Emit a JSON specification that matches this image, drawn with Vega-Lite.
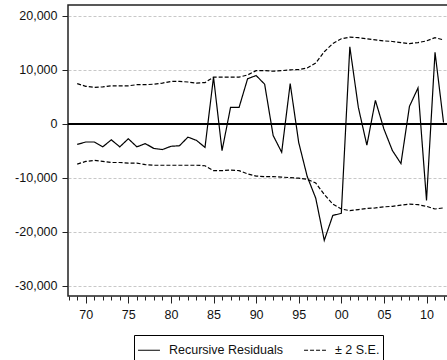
{
  "$schema": "https://vega.github.io/schema/vega-lite/v6.json",
  "width": 381,
  "height": 291,
  "autosize": {"type": "none"},
  "padding": {"left": 68, "top": 5, "right": -2, "bottom": 64},
  "background": "white",
  "config": {
    "view": {"stroke": "#222222", "strokeWidth": 1.5},
    "axis": {"labelFont": "Liberation Sans", "labelFontSize": 12.5, "labelColor": "#111111", "domain": false, "tickColor": "#222222", "title": null}
  },
  "data": {"values": [
    {"year": 1969, "resid": -3850, "upper": 7400, "lower": -7500},
    {"year": 1970, "resid": -3400, "upper": 6900, "lower": -7000},
    {"year": 1971, "resid": -3400, "upper": 6700, "lower": -6800},
    {"year": 1972, "resid": -4300, "upper": 6800, "lower": -7000},
    {"year": 1973, "resid": -3000, "upper": 7000, "lower": -7200},
    {"year": 1974, "resid": -4300, "upper": 7000, "lower": -7200},
    {"year": 1975, "resid": -2800, "upper": 7000, "lower": -7300},
    {"year": 1976, "resid": -4300, "upper": 7200, "lower": -7300},
    {"year": 1977, "resid": -3700, "upper": 7200, "lower": -7600},
    {"year": 1978, "resid": -4600, "upper": 7300, "lower": -7700},
    {"year": 1979, "resid": -4800, "upper": 7500, "lower": -7700},
    {"year": 1980, "resid": -4200, "upper": 7800, "lower": -7700},
    {"year": 1981, "resid": -4100, "upper": 7800, "lower": -7700},
    {"year": 1982, "resid": -2500, "upper": 7700, "lower": -7700},
    {"year": 1983, "resid": -3100, "upper": 7500, "lower": -7700},
    {"year": 1984, "resid": -4400, "upper": 7600, "lower": -7800},
    {"year": 1985, "resid": 8600, "upper": 8600, "lower": -8700},
    {"year": 1986, "resid": -5000, "upper": 8600, "lower": -8700},
    {"year": 1987, "resid": 3000, "upper": 8600, "lower": -8600},
    {"year": 1988, "resid": 3000, "upper": 8600, "lower": -8700},
    {"year": 1989, "resid": 8300, "upper": 9000, "lower": -9300},
    {"year": 1990, "resid": 8900, "upper": 9800, "lower": -9700},
    {"year": 1991, "resid": 7300, "upper": 9800, "lower": -9800},
    {"year": 1992, "resid": -2200, "upper": 9700, "lower": -9800},
    {"year": 1993, "resid": -5300, "upper": 9800, "lower": -9900},
    {"year": 1994, "resid": 7400, "upper": 9950, "lower": -10000},
    {"year": 1995, "resid": -3500, "upper": 10000, "lower": -10100},
    {"year": 1996, "resid": -9800, "upper": 10300, "lower": -10300},
    {"year": 1997, "resid": -13800, "upper": 11200, "lower": -11000},
    {"year": 1998, "resid": -21600, "upper": 13300, "lower": -13100},
    {"year": 1999, "resid": -17000, "upper": 14800, "lower": -14900},
    {"year": 2000, "resid": -16600, "upper": 15700, "lower": -15800},
    {"year": 2001, "resid": 14200, "upper": 16000, "lower": -16100},
    {"year": 2002, "resid": 3000, "upper": 15900, "lower": -15900},
    {"year": 2003, "resid": -4000, "upper": 15700, "lower": -15700},
    {"year": 2004, "resid": 4300, "upper": 15500, "lower": -15600},
    {"year": 2005, "resid": -1000, "upper": 15300, "lower": -15400},
    {"year": 2006, "resid": -5000, "upper": 15200, "lower": -15300},
    {"year": 2007, "resid": -7400, "upper": 15000, "lower": -15100},
    {"year": 2008, "resid": 3200, "upper": 14800, "lower": -14900},
    {"year": 2009, "resid": 6600, "upper": 15000, "lower": -15000},
    {"year": 2010, "resid": -14200, "upper": 15300, "lower": -15300},
    {"year": 2011, "resid": 13200, "upper": 15900, "lower": -15800},
    {"year": 2012, "resid": 200, "upper": 15500, "lower": -15600}
  ]},
  "layer": [
    {
      "mark": {"type": "rule", "color": "black", "strokeWidth": 1},
      "encoding": {
        "y": {"datum": 0, "type": "quantitative", "scale": {"domain": [-31900, 21950], "nice": false, "zero": false}}
      }
    },
    {
      "transform": [{"fold": ["resid", "upper", "lower"], "as": ["key", "value"]}],
      "mark": {"type": "line", "color": "black", "strokeWidth": 1.2},
      "encoding": {
        "x": {
          "field": "year", "type": "quantitative",
          "scale": {"domain": [1967.92, 2012.64], "nice": false, "zero": false},
          "axis": {
            "values": [1968,1969,1970,1971,1972,1973,1974,1975,1976,1977,1978,1979,1980,1981,1982,1983,1984,1985,1986,1987,1988,1989,1990,1991,1992,1993,1994,1995,1996,1997,1998,1999,2000,2001,2002,2003,2004,2005,2006,2007,2008,2009,2010,2011,2012],
            "tickSize": {"condition": {"test": "datum.value % 5 === 0", "value": 7}, "value": 4},
            "labelExpr": "datum.value % 5 === 0 ? slice(toString(datum.value), 2) : ''",
            "labelPadding": 5,
            "labelOverlap": false,
            "labelFlush": false,
            "grid": false
          }
        },
        "y": {
          "field": "value", "type": "quantitative",
          "scale": {"domain": [-31900, 21950], "nice": false, "zero": false},
          "axis": {
            "values": [-30000, -20000, -10000, 0, 10000, 20000],
            "labelExpr": "replace(format(datum.value, ','), '−', '-')",
            "tickSize": 6,
            "labelPadding": 5,
            "grid": true,
            "gridColor": "#c8c8c8",
            "gridDash": [3, 2]
          }
        },
        "detail": {"field": "key"},
        "strokeDash": {
          "field": "key", "type": "nominal",
          "scale": {"domain": ["resid", "upper", "lower"], "range": [[1, 0], [4, 2], [4, 2]]},
          "legend": {
            "values": ["resid", "upper"],
            "labelExpr": "datum.value == 'resid' ? 'Recursive Residuals' : '± 2 S.E.'",
            "orient": "none",
            "legendX": 66,
            "legendY": 330,
            "direction": "horizontal",
            "title": null,
            "strokeColor": "black",
            "padding": 3,
            "symbolType": "stroke",
            "symbolSize": 480,
            "symbolStrokeColor": "black",
            "symbolStrokeWidth": 1.2,
            "labelFont": "Liberation Sans",
            "labelFontSize": 12.5,
            "labelColor": "#111111",
            "labelOffset": 8,
            "columnPadding": 18
          }
        }
      }
    }
  ]
}
